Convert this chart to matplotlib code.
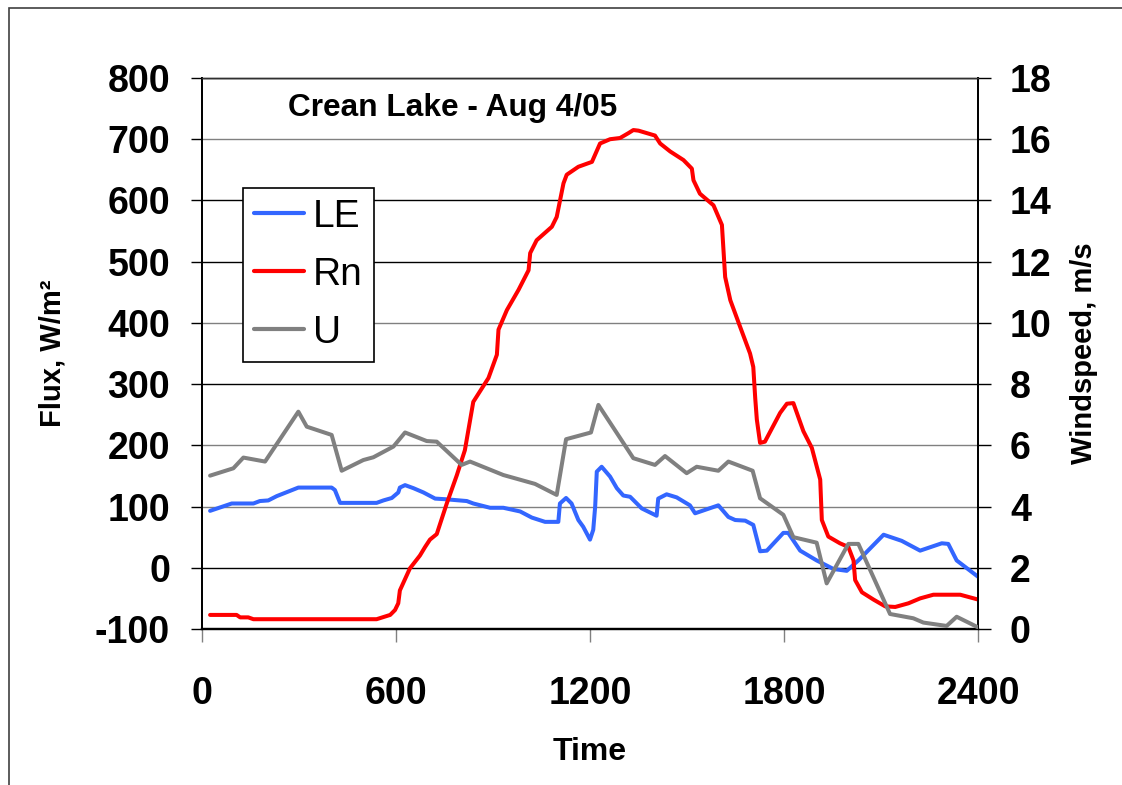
import matplotlib
matplotlib.use('Agg')
import matplotlib.pyplot as plt
import matplotlib.patches as mpatches
import numpy as np

plt.rcParams['font.family'] = ['Liberation Sans', 'DejaVu Sans']
plt.rcParams['axes.unicode_minus'] = False

# latent heat flux (W/m2)
le_time = [25, 92, 159, 179, 205, 231, 298, 401, 411, 427, 540, 561, 587, 607,
           612, 628, 654, 685, 721, 752, 819, 839, 891, 932, 984, 1020, 1061,
           1102, 1107, 1126, 1143, 1164, 1179, 1200, 1210, 1216, 1221, 1236,
           1262, 1283, 1303, 1324, 1360, 1406, 1411, 1437, 1468, 1509, 1525,
           1597, 1628, 1649, 1680, 1705, 1726, 1747, 1798, 1813, 1850, 1901,
           1953, 1994, 2030, 2108, 2164, 2221, 2288, 2308, 2334, 2401]
le_flux = [93, 105, 105, 109, 110, 117, 131, 131, 127, 106, 106, 110, 114, 123,
           131, 135, 130, 123, 113, 112, 109, 105, 98, 98, 92, 82, 75,
           75, 105, 114, 105, 78, 67, 46, 62, 100, 157, 165,
           149, 130, 118, 116, 97, 85, 113, 120, 115, 102, 89,
           102, 83, 78, 77, 70, 27, 28, 57, 57, 28, 12,
           -2, -5, 12, 54, 44, 28, 40, 39, 12, -15]

# net radiation (W/m2)
rn_time = [25, 107, 118, 143, 159, 540, 582, 597, 607, 612, 643, 674, 690, 705,
           726, 757, 788, 813, 839, 886, 912, 917, 943, 979, 1010, 1015, 1035,
           1082, 1097, 1118, 1128, 1164, 1206, 1231, 1262, 1293, 1319, 1334,
           1350, 1401, 1417, 1448, 1489, 1515, 1520, 1540, 1582, 1608, 1618,
           1634, 1664, 1695, 1705, 1711, 1716, 1726, 1741, 1788, 1809, 1829,
           1860, 1886, 1912, 1917, 1937, 1973, 1999, 2015, 2020, 2041, 2077,
           2113, 2144, 2185, 2221, 2262, 2345, 2401]
rn_flux = [-77, -77, -81, -81, -84, -84, -77, -69, -58, -37, -1, 20, 34, 46,
           55, 105, 151, 192, 271, 310, 348, 389, 421, 454, 486, 514, 535,
           557, 573, 628, 642, 655, 663, 693, 700, 702, 710, 715,
           714, 706, 693, 680, 666, 652, 633, 611, 592, 560, 475,
           437, 394, 350, 328, 277, 242, 204, 206, 253, 268, 269,
           223, 196, 144, 78, 51, 40, 34, 12, -20, -40, -52,
           -63, -64, -58, -50, -44, -44, -52]

# windspeed (m/s)
u_time = [25, 97, 128, 195, 298, 324, 401, 432, 499, 530, 592, 628, 695, 726,
          803, 829, 932, 1030, 1097, 1126, 1203, 1226, 1334, 1401, 1432, 1499,
          1530, 1597, 1628, 1703, 1726, 1798, 1829, 1901, 1932, 1999, 2030,
          2128, 2200, 2231, 2303, 2334, 2401]
u_speed = [5.01, 5.25, 5.6, 5.47, 7.1, 6.61, 6.34, 5.17, 5.52, 5.61, 5.96, 6.42,
           6.14, 6.12, 5.36, 5.47, 5.03, 4.74, 4.38, 6.2, 6.42, 7.32, 5.58, 5.36,
           5.65, 5.09, 5.3, 5.17, 5.47, 5.17, 4.27, 3.73, 3.0, 2.82, 1.49, 2.78,
           2.78, 0.49, 0.35, 0.21, 0.1, 0.4, 0.05]

x_ticks = [0, 600, 1200, 1800, 2400]
flux_ticks = list(range(-100, 801, 100))
wind_ticks = list(range(0, 19, 2))

fig = plt.figure(figsize=(11.22, 7.85), dpi=100)
ax = fig.add_axes([202/1122, 156/785, 776/1122, 551/785])
ax2 = ax.twinx()

lw = 2.9
l1, = ax.plot(le_time, le_flux, color='#3366ff', lw=lw, label='LE',
              solid_joinstyle='round', solid_capstyle='round', zorder=3)
l2, = ax.plot(rn_time, rn_flux, color='#ff0000', lw=lw, label='Rn',
              solid_joinstyle='round', solid_capstyle='round', zorder=3)
l3, = ax2.plot(u_time, u_speed, color='#808080', lw=lw, label='U',
               solid_joinstyle='round', solid_capstyle='round', zorder=3)

ax.set_xlim(0, 2400)
ax.set_ylim(-100, 800)
ax2.set_ylim(0, 18)
ax.set_xticks(x_ticks)
ax.set_yticks(flux_ticks)
ax2.set_yticks(wind_ticks)

tick_font = 27
ax.tick_params(axis='y', direction='out', length=8, width=1, pad=15,
               labelsize=tick_font)
ax.tick_params(axis='x', direction='out', length=9, width=1, pad=25,
               labelsize=tick_font, color='#808080')
ax2.tick_params(axis='y', direction='out', length=9, width=1, pad=14,
                labelsize=tick_font)
for lab in ax.get_xticklabels() + ax.get_yticklabels() + ax2.get_yticklabels():
    lab.set_fontweight('bold')

# horizontal gridlines (black / grey as they show in the export)
grid_cols = ['#000000', '#000000', '#808080', '#808080', '#000000',
             '#808080', '#000000', '#000000', '#808080', '#303030']
ax.grid(True, axis='y', lw=1)
for t, c in zip(ax.yaxis.get_major_ticks(), grid_cols):
    t.gridline.set_color(c)
    t.tick1line.set_color(c)
for t, c in zip(ax2.yaxis.get_major_ticks(), grid_cols[1:]):
    t.tick2line.set_color(c)
ax.set_axisbelow(True)

for a in (ax, ax2):
    a.spines['left'].set_linewidth(1.3)
    a.spines['bottom'].set_linewidth(1.6)
    a.spines['right'].set_linewidth(1.3)
    a.spines['top'].set_linewidth(1)
    a.spines['top'].set_color('#303030')

ax.set_xlabel('Time', fontsize=23, fontweight='bold', va='center')
ax.xaxis.set_label_coords(0.5, -0.2232)
ax.set_ylabel('Flux, W/m²', fontsize=21, fontweight='bold', va='center')
ax.yaxis.set_label_coords(-0.1927, 0.5)
ax2.set_ylabel('Windspeed, m/s', fontsize=21, fontweight='bold', va='center')
ax2.yaxis.set_label_coords(1.136, 0.5)

ax.text(0.1108, 0.9456, 'Crean Lake - Aug 4/05', transform=ax.transAxes,
        fontsize=22.8, fontweight='bold', va='center', ha='left')

leg = ax2.legend(handles=[l1, l2, l3], loc='upper left',
                 bbox_to_anchor=(0.0524, 0.800), borderaxespad=0,
                 fontsize=28, handlelength=1.3, handletextpad=0.23,
                 borderpad=0.28, labelspacing=0.56, fancybox=False,
                 framealpha=1, edgecolor='black')
leg.get_frame().set_linewidth(1.2)
for h in leg.get_lines():
    h.set_linewidth(3)

border = mpatches.Rectangle((9/1122, -0.1), 2, 777/785 + 0.1,
                            transform=fig.transFigure, fill=False,
                            ec='#404040', lw=1.2)
fig.patches.append(border)

fig.savefig('out.png', dpi=100)
